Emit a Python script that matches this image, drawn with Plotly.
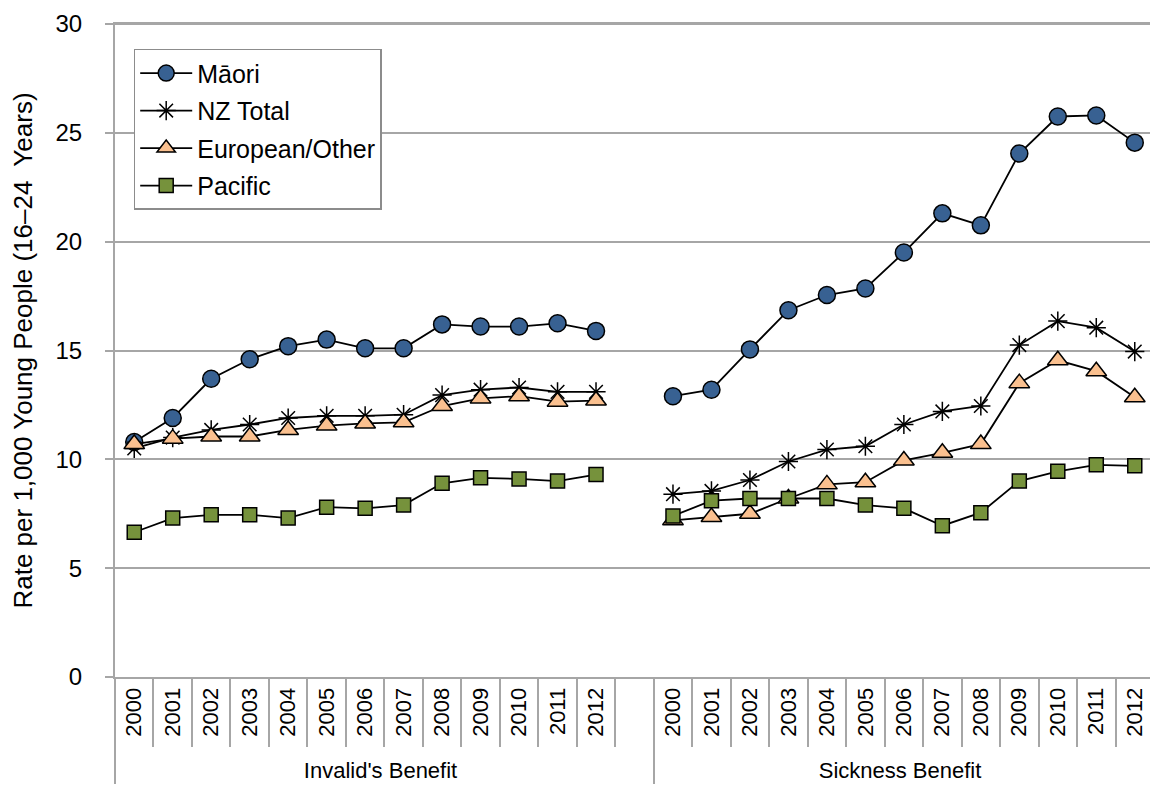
import plotly.graph_objects as go

# x categories: 13 years per benefit type, with one blank slot after Invalid's Benefit
years = ["2000", "2001", "2002", "2003", "2004", "2005", "2006",
         "2007", "2008", "2009", "2010", "2011", "2012"]
groups = ["Invalid's Benefit", "Sickness Benefit"]

# Invalid's Benefit
maori_ib = [10.8, 11.9, 13.7, 14.6, 15.2, 15.5, 15.1, 15.1, 16.2, 16.1, 16.1, 16.25, 15.9]
nztotal_ib = [10.5, 11.0, 11.35, 11.6, 11.9, 12.0, 12.0, 12.05, 12.95, 13.2, 13.3, 13.1, 13.1]
european_ib = [10.7, 10.95, 11.05, 11.05, 11.35, 11.55, 11.65, 11.7, 12.45, 12.8, 12.9, 12.65, 12.7]
pacific_ib = [6.65, 7.3, 7.45, 7.45, 7.3, 7.8, 7.75, 7.9, 8.9, 9.15, 9.1, 9.0, 9.3]

# Sickness Benefit
maori_sb = [12.9, 13.2, 15.05, 16.85, 17.55, 17.85, 19.5, 21.3, 20.75, 24.05, 25.75, 25.8, 24.55]
nztotal_sb = [8.4, 8.55, 9.05, 9.9, 10.45, 10.6, 11.6, 12.2, 12.45, 15.25, 16.35, 16.05, 14.95]
european_sb = [7.2, 7.35, 7.5, 8.2, 8.85, 8.95, 9.95, 10.3, 10.7, 13.5, 14.55, 14.05, 12.85]
pacific_sb = [7.4, 8.1, 8.2, 8.2, 8.2, 7.9, 7.75, 6.95, 7.55, 9.0, 9.45, 9.75, 9.7]

x_outer = [groups[0]] * 14 + [groups[1]] * 13
x_inner = years + [" "] + years


def join(a, b):
    return a + [None] + b


series = [
    ("Māori", join(maori_ib, maori_sb), "circle", "#386192", 17),
    ("NZ Total", join(nztotal_ib, nztotal_sb), "asterisk-open", "#000000", 16),
    ("European/Other", join(european_ib, european_sb), "triangle-up", "#FAC08F", 18),
    ("Pacific", join(pacific_ib, pacific_sb), "square", "#76923C", 14),
]

fig = go.Figure()
for name, vals, symbol, color, size in series:
    fig.add_trace(
        go.Scatter(
            x=[x_outer, x_inner],
            y=vals,
            name=name,
            legendgroup=name,
            mode="lines+markers",
            line=dict(color="black", width=1.8),
            marker=dict(
                symbol=symbol,
                color=color,
                size=size,
                line=dict(color="black", width=1.5),
            ),
        )
    )

# top border of the plot area
fig.add_shape(type="line", xref="paper", yref="paper", x0=0, x1=1, y0=1, y1=1,
              line=dict(color="#a6a6a6", width=2))

# page body has an 8px margin, so the figure is sized/shifted to fit the window
fig.update_layout(
    width=1150,
    height=779,
    paper_bgcolor="white",
    plot_bgcolor="white",
    margin=dict(l=107, r=2, t=12, b=110),
    font=dict(family="Liberation Sans, Arial, sans-serif", size=22, color="black"),
    showlegend=True,
    legend=dict(
        x=0.018,
        y=0.962,
        xanchor="left",
        yanchor="top",
        bgcolor="white",
        bordercolor="#8c8c8c",
        borderwidth=1.5,
        font=dict(size=25),
        itemwidth=52,
        tracegroupgap=2,
    ),
    xaxis=dict(
        type="multicategory",
        range=[-0.5, 26.5],
        tickangle=-90,
        ticks="outside",
        tickson="boundaries",
        ticklen=68,
        tickcolor="#a6a6a6",
        tickwidth=1.5,
        showline=True,
        linecolor="#a6a6a6",
        linewidth=2,
        mirror=True,
        showdividers=True,
        dividercolor="#a6a6a6",
        dividerwidth=1.5,
        showgrid=False,
        tickfont=dict(size=22),
    ),
    yaxis=dict(
        range=[0, 30],
        dtick=5,
        showgrid=True,
        gridcolor="#a6a6a6",
        gridwidth=1.8,
        showline=True,
        linecolor="#a6a6a6",
        linewidth=2,
        mirror=True,
        ticks="outside",
        ticklen=8,
        tickwidth=1.5,
        tickcolor="#a6a6a6",
        ticklabelstandoff=18,
        ticklabeloverflow="allow",
        zeroline=False,
        tickfont=dict(size=24),
        title=dict(text="Rate per 1,000 Young People (16–24  Years)",
                   font=dict(size=26), standoff=20),
    ),
)

fig.write_html("out.html")
